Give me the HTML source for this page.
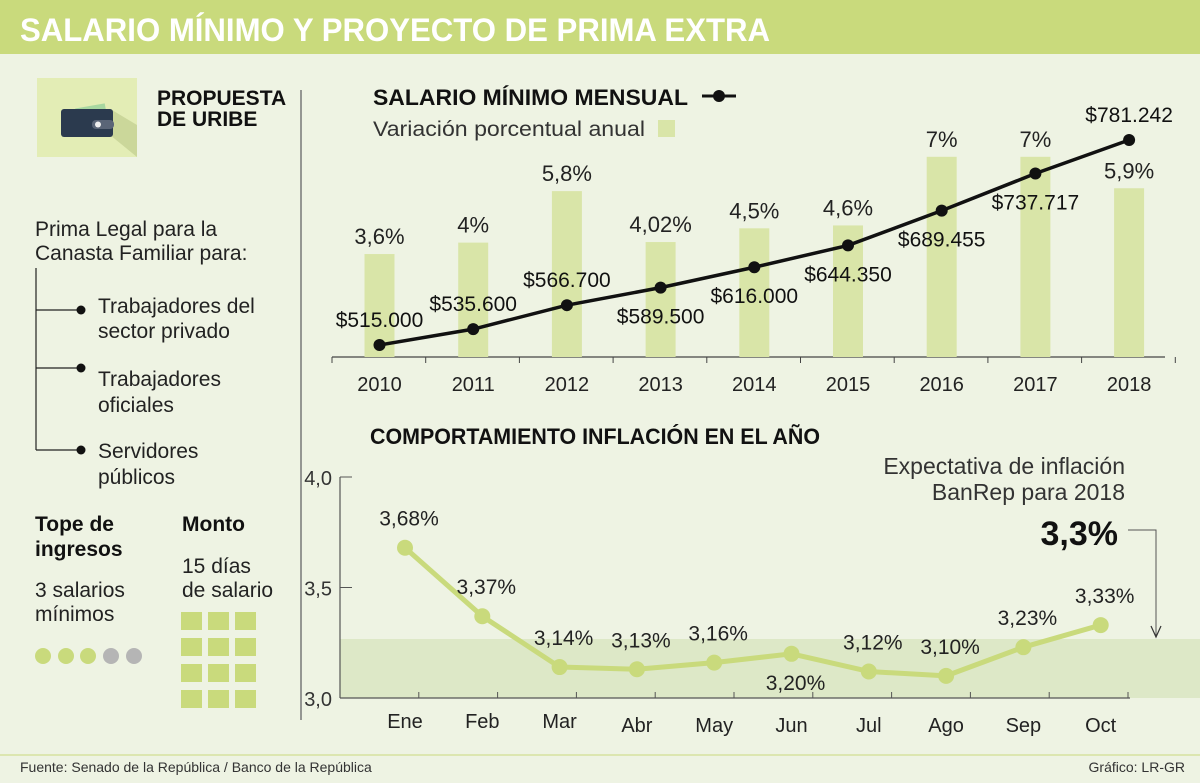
<!DOCTYPE html>
<html><head><meta charset="utf-8"><style>
html,body{margin:0;padding:0;background:#eef3e3;}
svg{display:block;font-family:"Liberation Sans Narrow","Liberation Sans",sans-serif;}
.reg{font-family:"Liberation Sans",sans-serif;}
</style></head><body>
<svg id="chart" width="1200" height="783" viewBox="0 0 1200 783" xmlns="http://www.w3.org/2000/svg">
<rect x="0" y="0" width="1200" height="783" fill="#eef3e3"/>
<rect x="0" y="0" width="1200" height="54" fill="#c9da7c"/>
<text x="20" y="41" font-size="32" font-weight="bold" fill="#fff" class="reg" textLength="750" lengthAdjust="spacingAndGlyphs">SALARIO MÍNIMO Y PROYECTO DE PRIMA EXTRA</text>

<g>
<rect x="37" y="78" width="100" height="79" fill="#e3edb5"/>
<polygon points="70,135 110,135 137,157 137,125 112,110 92,110" fill="#cbd79a"/>
<rect x="76" y="106" width="30" height="14" fill="#a7d7a0" transform="rotate(-10 90 112)"/>
<rect x="61" y="109" width="52" height="28" rx="3" fill="#2b3a4e"/>
<rect x="92" y="120" width="22" height="9" rx="4" fill="#5a6577"/>
<circle cx="98" cy="124.5" r="3" fill="#eee"/>
</g>
<text x="157" y="105" font-size="21" font-weight="bold" fill="#111" class="reg">PROPUESTA</text>
<text x="157" y="126" font-size="21" font-weight="bold" fill="#111" class="reg">DE URIBE</text>
<line x1="301" y1="90" x2="301" y2="720" stroke="#777" stroke-width="1.5"/>
<text x="35" y="236" font-size="21" fill="#222" class="reg">Prima Legal para la</text>
<text x="35" y="260" font-size="21" fill="#222" class="reg">Canasta Familiar para:</text>
<g stroke="#222" stroke-width="1.2" fill="none">
<line x1="36" y1="268" x2="36" y2="450"/>
<line x1="36" y1="310" x2="80" y2="310"/>
<line x1="36" y1="368" x2="80" y2="368"/>
<line x1="36" y1="450" x2="80" y2="450"/>
</g>
<circle cx="81" cy="310" r="4.5" fill="#111"/>
<circle cx="81" cy="368" r="4.5" fill="#111"/>
<circle cx="81" cy="450" r="4.5" fill="#111"/>
<g font-size="21" fill="#222" class="reg">
<text x="98" y="313">Trabajadores del</text>
<text x="98" y="338">sector privado</text>
<text x="98" y="386">Trabajadores</text>
<text x="98" y="412">oficiales</text>
<text x="98" y="458">Servidores</text>
<text x="98" y="484">públicos</text>
</g>
<text x="35" y="531" font-size="21" fill="#111" class="reg" style="font-weight:600">Tope de</text>
<text x="35" y="556" font-size="21" fill="#111" class="reg" style="font-weight:600">ingresos</text>
<text x="35" y="597" font-size="21" fill="#222" class="reg">3 salarios</text>
<text x="35" y="621" font-size="21" fill="#222" class="reg">mínimos</text>
<g>
<circle cx="43" cy="656" r="8" fill="#c9da7c"/><circle cx="66" cy="656" r="8" fill="#c9da7c"/><circle cx="88" cy="656" r="8" fill="#c9da7c"/>
<circle cx="111" cy="656" r="8" fill="#b5b5b5"/><circle cx="134" cy="656" r="8" fill="#b5b5b5"/>
</g>
<text x="182" y="531" font-size="21" fill="#111" class="reg" style="font-weight:600">Monto</text>
<text x="182" y="573" font-size="21" fill="#222" class="reg">15 días</text>
<text x="182" y="597" font-size="21" fill="#222" class="reg">de salario</text>
<g fill="#c9da7c" id="grid"></g>

<text x="373" y="105" font-size="22" font-weight="bold" fill="#111" class="reg" textLength="315" lengthAdjust="spacingAndGlyphs">SALARIO MÍNIMO MENSUAL</text>
<g><line x1="702" y1="96" x2="736" y2="96" stroke="#111" stroke-width="3"/><circle cx="719" cy="96" r="6" fill="#111"/></g>
<text x="373" y="136" font-size="21" fill="#333" class="reg" textLength="272" lengthAdjust="spacingAndGlyphs">Variación porcentual anual</text>
<rect x="658" y="120" width="17" height="17" fill="#d9e5a8"/>
<g id="topChart"></g>

<text x="370" y="444" font-size="22" font-weight="bold" fill="#111" class="reg" textLength="450" lengthAdjust="spacingAndGlyphs">COMPORTAMIENTO INFLACIÓN EN EL AÑO</text>
<rect x="340" y="639" width="860" height="59" fill="#dde8c7"/>
<text x="1125" y="474" font-size="23" fill="#333" text-anchor="end">Expectativa de inflación</text>
<text x="1125" y="500" font-size="23" fill="#333" text-anchor="end">BanRep para 2018</text>
<text x="1118" y="545" font-size="34" font-weight="bold" fill="#111" text-anchor="end">3,3%</text>
<polyline points="1128,530 1156,530 1156,636" fill="none" stroke="#555" stroke-width="1"/>
<polyline points="1151,626 1156,637 1161,626" fill="none" stroke="#333" stroke-width="1.2"/>
<g id="botChart"></g>

<line x1="0" y1="755" x2="1200" y2="755" stroke="#c9da7c" stroke-width="1"/>
<text x="20" y="772" font-size="14" fill="#333">Fuente: Senado de la República / Banco de la República</text>
<text x="1185" y="772" font-size="14" fill="#333" text-anchor="end">Gráfico: LR-GR</text>
</svg>
<script>
const years=["2010","2011","2012","2013","2014","2015","2016","2017","2018"];
const pctValues=[3.6,4,5.8,4.02,4.5,4.6,7,7,5.9];
const pctLabels=["3,6%","4%","5,8%","4,02%","4,5%","4,6%","7%","7%","5,9%"];
const salaryValues=[515000,535600,566700,589500,616000,644350,689455,737717,781242];
const salaryLabels=["$515.000","$535.600","$566.700","$589.500","$616.000","$644.350","$689.455","$737.717","$781.242"];
const salaryLabelBelow=[false,false,false,true,true,true,true,true,false];
const months=["Ene","Feb","Mar","Abr","May","Jun","Jul","Ago","Sep","Oct"];
const inflValues=[3.68,3.37,3.14,3.13,3.16,3.20,3.12,3.10,3.23,3.33];
const inflLabels=["3,68%","3,37%","3,14%","3,13%","3,16%","3,20%","3,12%","3,10%","3,23%","3,33%"];
const inflLabelBelow=[false,false,false,false,false,true,false,false,false,false];
const yTicks=[3.0,3.5,4.0];
const yTickLabels=["3,0","3,5","4,0"];

const NS="http://www.w3.org/2000/svg";
function mk(tag,attrs,parent,txt){const e=document.createElementNS(NS,tag);for(const k in attrs)e.setAttribute(k,attrs[k]);if(txt!==undefined)e.textContent=txt;parent.appendChild(e);return e;}

const grid=document.getElementById('grid');
for(let r=0;r<4;r++)for(let c=0;c<3;c++){const e=mk('rect',{x:181+c*27,y:612+r*26,width:21,height:18},grid);

}

const topG=document.getElementById('topChart');
const base=357;
const xT=i=>379.5+i*93.7;
const yPct=v=>base-v*28.6;
const ySal=v=>345-(v-515000)*0.00077;
const ax=mk('line',{x1:332,y1:base,x2:1165,y2:base,stroke:'#444','stroke-width':1.2},topG);


for(let i=0;i<=years.length;i++){const tx=332+i*93.7;mk('line',{x1:tx,y1:base,x2:tx,y2:base+6,stroke:'#444','stroke-width':1},topG);}
years.forEach((y,i)=>{
 const b=mk('rect',{x:xT(i)-15,y:yPct(pctValues[i]),width:30,height:base-yPct(pctValues[i]),fill:'#d9e5a8'},topG);
 
 
 const l=mk('text',{x:xT(i),y:yPct(pctValues[i])-10,'font-size':22,fill:'#222','text-anchor':'middle'},topG,pctLabels[i]);
 
 
 const t=mk('text',{x:xT(i),y:base+34,'font-size':20,fill:'#222','text-anchor':'middle'},topG,y);
 
 
});
const pl=mk('polyline',{points:salaryValues.map((v,i)=>xT(i)+','+ySal(v)).join(' '),fill:'none',stroke:'#111','stroke-width':3.5},topG);


salaryValues.forEach((v,i)=>{
 const c=mk('circle',{cx:xT(i),cy:ySal(v),r:6,fill:'#111'},topG);
 
 
 const ty=salaryLabelBelow[i]?ySal(v)+36:ySal(v)-18;
 const l=mk('text',{x:xT(i),y:ty,'font-size':21,fill:'#111','text-anchor':'middle'},topG,salaryLabels[i]);
 
 
});

const botG=document.getElementById('botChart');
const xB=i=>405+i*77.3;
const yB=v=>698-(v-3.0)*221;
const yax=mk('line',{x1:340,y1:477,x2:340,y2:698,stroke:'#555','stroke-width':1.2},botG);


const xax=mk('line',{x1:340,y1:698,x2:1130,y2:698,stroke:'#555','stroke-width':1.2},botG);


yTicks.forEach((t,i)=>{
 mk('line',{x1:340,y1:yB(t),x2:352,y2:yB(t),stroke:'#555','stroke-width':1},botG);
 const l=mk('text',{x:332,y:yB(t)+8,'font-size':20,fill:'#333','text-anchor':'end'},botG,yTickLabels[i]);
 
 
});
for(let i=1;i<=months.length;i++){const tx=340+i*78.8;mk('line',{x1:tx,y1:692,x2:tx,y2:698,stroke:'#555','stroke-width':1},botG);}
months.forEach((m,i)=>{
 const l=mk('text',{x:xB(i),y:i<3?728:732,'font-size':20,fill:'#222','text-anchor':'middle'},botG,m);
 
 
});
const il=mk('polyline',{points:inflValues.map((v,i)=>xB(i)+','+yB(v)).join(' '),fill:'none',stroke:'#c9da7c','stroke-width':5,'stroke-linejoin':'round'},botG);


inflValues.forEach((v,i)=>{
 const c=mk('circle',{cx:xB(i),cy:yB(v),r:8,fill:'#c9da7c'},botG);
 
 
 const ty=inflLabelBelow[i]?yB(v)+36:yB(v)-22;
 const l=mk('text',{x:xB(i)+4,y:ty,'font-size':21,fill:'#222','text-anchor':'middle'},botG,inflLabels[i]);
 
 
});
</script>
</body></html>
